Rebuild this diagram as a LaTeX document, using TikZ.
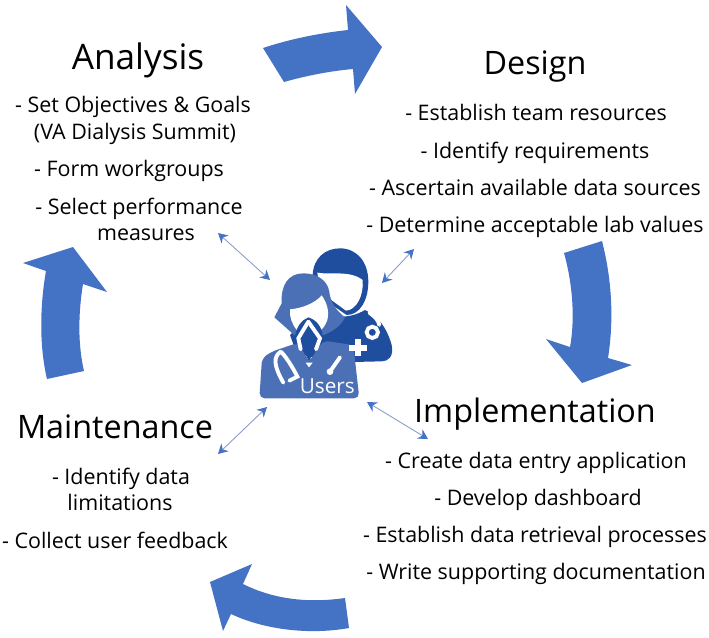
\documentclass[tikz,border=0pt]{standalone}
\usepackage{fontspec}
\setmainfont{Open Sans}
\usetikzlibrary{arrows.meta}
\definecolor{cycleblue}{HTML}{4472C4}
\definecolor{linkblue}{HTML}{8A9CC8}
\definecolor{userdark}{HTML}{1F4E9F}
\definecolor{userlight}{HTML}{4C70B6}
\tikzset{
  phase/.style={anchor=base, inner sep=0pt, font=\fontsize{18.4}{22}\selectfont},
  task/.style={anchor=base, inner sep=0pt, font=\fontsize{12.2}{15}\selectfont},
  cycle/.style={fill=cycleblue},
  link/.style={draw=linkblue, line width=0.5pt, {Stealth[length=5.5pt,width=6pt,color=cycleblue]}-{Stealth[length=5.5pt,width=6pt,color=cycleblue]}},
  tube/.style={draw=white, line width=2.2pt, line cap=round}
}

\begin{document}
\begin{tikzpicture}[x=0.02cm, y=-0.02cm]
  \useasboundingbox (0,0) rectangle (709,637);

  % big arrows
  \fill[cycle] (263,48) .. controls (290,39) and (320,33) .. (348,30) -- (346,5) -- (382,47) -- (355,94) -- (353,69)
    .. controls (330,71) and (305,76) .. (284,82) -- cycle;
  \fill[cycle] (564,253) -- (602,241) .. controls (612,280) and (614,320) .. (608,358) -- (632,365) -- (582,383) -- (546,339) -- (570,347)
    .. controls (575,320) and (573,285) .. cycle;
  \fill[cycle] (345,598) -- (349,628) .. controls (310,635) and (265,630) .. (231,614) -- (223,631) -- (210,582) -- (252,564) -- (243,584)
    .. controls (275,600) and (310,603) .. cycle;
  \fill[cycle] (47,379) -- (84,371) .. controls (78,345) and (78,315) .. (83,284) -- (107,292) -- (73,247) -- (23,263) -- (46,271)
    .. controls (40,305) and (39,345) .. cycle;

  % titles
  \node[phase, font=\fontsize{20}{24}\selectfont] (analysis) at (138,69) {Analysis};
  \node[phase] (design) at (535,74) {Design};
  \node[phase] (implementation) at (535,422) {Implementation};
  \node[phase] (maintenance) at (115,438) {Maintenance};

  % analysis
  \node[task] (ana1) at (133,112) {- Set Objectives \& Goals};
  \node[task] (ana2) at (135,139) {(VA Dialysis Summit)};
  \node[task] (ana3) at (129,176) {- Form workgroups};
  \node[task] (ana4) at (139,214) {- Select performance};
  \node[task] (ana5) at (146,240) {measures};

  % design
  \node[task] (des1) at (536,120) {- Establish team resources};
  \node[task] (des2) at (535,158) {- Identify requirements};
  \node[task] (des3) at (535,195) {- Ascertain available data sources};
  \node[task] (des4) at (535,232) {- Determine acceptable lab values};

  % implementation
  \node[task] (imp1) at (536,468) {- Create data entry application};
  \node[task] (imp2) at (538,505) {- Develop dashboard};
  \node[task] (imp3) at (535,542) {- Establish data retrieval processes};
  \node[task] (imp4) at (536,579) {- Write supporting documentation};

  % maintenance
  \node[task] (mai1) at (121,484) {- Identify data};
  \node[task] (mai2) at (120,510) {limitations};
  \node[task] (mai3) at (115,548) {- Collect user feedback};

  % users icon
  \begin{scope}[shift={(240,220)}, scale=0.3333]
    \fill[userdark] (218,165) .. controls (220,115) and (255,85) .. (300,85) .. controls (350,85) and (385,125) .. (385,185)
      .. controls (385,240) and (360,285) .. (320,285) -- (240,230) -- cycle;
    \fill[white] (232,158) .. controls (270,165) and (330,150) .. (368,180) .. controls (372,225) and (350,270) .. (318,272) -- (240,215) -- cycle;
    \fill[userdark] (150,345) -- (200,300) -- (300,290) .. controls (325,290) and (350,285) .. (375,270)
      .. controls (410,285) and (440,320) .. (455,375) .. controls (462,410) and (445,424) .. (425,424) -- (340,426) -- (250,420) -- (170,400) -- cycle;
    % her hair and face
    \fill[userlight] (190,160) .. controls (145,160) and (122,195) .. (125,250) -- (103,292) -- (165,347) -- (245,347)
      .. controls (280,335) and (305,315) .. (315,292) .. controls (285,270) and (270,240) .. (268,215) .. controls (262,180) and (230,160) .. cycle;
    \fill[white] (150,268) .. controls (185,265) and (225,250) .. (245,226) .. controls (262,250) and (268,275) .. (262,300)
      .. controls (255,320) and (245,330) .. (235,335) -- (170,330) .. controls (155,310) and (148,290) .. cycle;
    \fill[userdark] (165,347) .. controls (170,320) and (185,300) .. (205,292) .. controls (230,300) and (245,320) .. (248,347) -- (235,395) -- (180,395) -- cycle;
    % her coat
    \fill[userlight, rounded corners=3pt] (58,535) -- (66,415) -- (95,395) -- (175,368) -- (207,425) -- (250,362) -- (340,375) -- (358,535) -- cycle;
    \fill[userdark] (185,385) -- (228,385) -- (207,422) -- cycle;
    \fill[white] (197,428) -- (218,428) -- (207,442) -- cycle;
    \draw[tube] (205,305) -- (175,355) -- (182,388);
    \draw[tube] (205,305) -- (240,355) -- (228,388);
    \draw[tube] (122,395) .. controls (100,410) and (100,435) .. (130,488);
    \draw[tube] (122,395) .. controls (135,405) and (160,445) .. (172,470) -- (148,482);
    \draw[tube] (300,412) -- (272,452);
    \fill[white] (270,455) circle (10);
    % his stethoscope and cross
    \draw[tube] (388,278) .. controls (405,290) and (415,300) .. (418,315);
    \draw[draw=white, line width=2.2pt] (397,337) circle (17);
    \fill[white] (346,358) rectangle (364,408);
    \fill[white] (328,374) rectangle (382,392);
    \node[white, inner sep=0pt, font=\fontsize{11.8}{14}\selectfont] (users) at (262,500) {Users};
  \end{scope}

  % links to users
  \coordinate (anaEnd) at (218,233);
  \coordinate (usrAna) at (270,280);
  \coordinate (desEnd) at (414,249);
  \coordinate (usrDes) at (382,283);
  \coordinate (maiEnd) at (218,454);
  \coordinate (usrMai) at (267,407);
  \coordinate (impEnd) at (428,439);
  \coordinate (usrImp) at (367,402);
  \draw[link] (anaEnd) -- (usrAna);
  \draw[link] (desEnd) -- (usrDes);
  \draw[link] (maiEnd) -- (usrMai);
  \draw[link] (impEnd) -- (usrImp);
\end{tikzpicture}
\end{document}
